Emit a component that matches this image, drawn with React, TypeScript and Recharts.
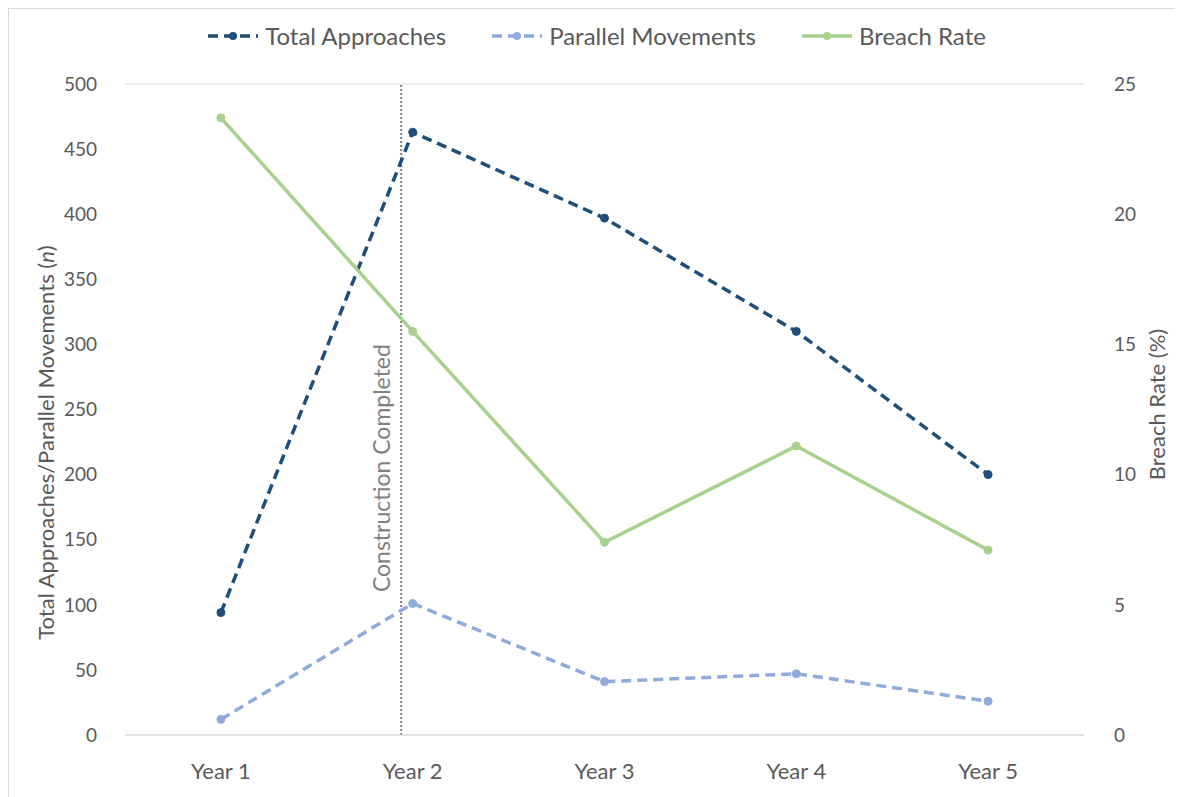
import React from 'react';
import {
  LineChart,
  Line,
  XAxis,
  YAxis,
  CartesianGrid,
  Legend,
  ReferenceLine,
} from 'recharts';

const years = [1, 2, 3, 4, 5];
const totalApproaches = [94, 463, 397, 310, 200];
const parallelMovements = [12, 101, 41, 47, 26];
const breachRate = [23.7, 15.5, 7.4, 11.1, 7.1];
const leftTicks = [0, 50, 100, 150, 200, 250, 300, 350, 400, 450, 500];
const rightTicks = [0, 5, 10, 15, 20, 25];
const constructionAt = 1.94;

const data = years.map((y, i) => ({
  year: y,
  total: totalApproaches[i],
  parallel: parallelMovements[i],
  breach: breachRate[i],
}));

const FONT = 'Lato, "Open Sans", sans-serif';
const TEXT = '#595959';

const legendItems = [
  { name: 'Total Approaches', color: '#1f4e79', dash: true },
  { name: 'Parallel Movements', color: '#8faadc', dash: true },
  { name: 'Breach Rate', color: '#a9d18e', dash: false },
];

function LegendContent() {
  return (
    <div style={{ display: 'flex', justifyContent: 'center', gap: 44, fontFamily: FONT, fontSize: 24, color: TEXT }}>
      {legendItems.map((it) => (
        <div key={it.name} style={{ display: 'flex', alignItems: 'center' }}>
          <svg width={54} height={12} style={{ marginRight: 5 }}>
            <line
              x1={2}
              x2={52}
              y1={6}
              y2={6}
              stroke={it.color}
              strokeWidth={3.5}
              strokeDasharray={it.dash ? '10 6' : undefined}
            />
            <circle cx={27} cy={6} r={4} fill={it.color} />
          </svg>
          <span>{it.name}</span>
        </div>
      ))}
    </div>
  );
}

function LeftTitle(props: any) {
  const { viewBox } = props;
  const x = viewBox.x + 36;
  const y = viewBox.y + viewBox.height / 2 + 33;
  return (
    <text
      x={x}
      y={y}
      transform={`rotate(-90 ${x} ${y})`}
      textAnchor="middle"
      dominantBaseline="central"
      fill={TEXT}
      fontFamily={FONT}
      fontSize={22}
    >
      Total Approaches/Parallel Movements (<tspan fontStyle="italic">n</tspan>)
    </text>
  );
}

function ConstructionLabel(props: any) {
  const { viewBox } = props;
  const x = viewBox.x - 20;
  const y = viewBox.y + viewBox.height * 0.59;
  return (
    <text
      x={x}
      y={y}
      transform={`rotate(-90 ${x} ${y})`}
      textAnchor="middle"
      dominantBaseline="central"
      fill="#7f7f7f"
      fontFamily={FONT}
      fontSize={23}
    >
      Construction Completed
    </text>
  );
}

export default function App() {
  return (
    <div style={{ width: 1174, height: 800, border: '1px solid #d9d9d9', background: '#fff' }}>
      <LineChart width={1174} height={790} data={data} margin={{ top: 46, right: 0, left: 0, bottom: 0 }}>
        <CartesianGrid vertical={false} stroke="#d9d9d9" strokeWidth={1} />
        <Legend verticalAlign="top" content={<LegendContent />} wrapperStyle={{ top: 12 }} />
        <XAxis
          dataKey="year"
          type="number"
          domain={[0.5, 5.5]}
          ticks={years}
          tickFormatter={(v) => `Year ${v}`}
          axisLine={{ stroke: '#d9d9d9' }}
          tickLine={false}
          tick={{ fill: TEXT, fontSize: 22, fontFamily: FONT }}
          tickMargin={22}
          height={64}
        />
        <YAxis
          yAxisId="left"
          domain={[0, 500]}
          ticks={leftTicks}
          axisLine={false}
          tickLine={false}
          tick={{ fill: TEXT, fontSize: 19, fontFamily: FONT }}
          tickMargin={22}
          width={116}
          label={<LeftTitle />}
        />
        <YAxis
          yAxisId="right"
          orientation="right"
          domain={[0, 25]}
          ticks={rightTicks}
          axisLine={false}
          tickLine={false}
          tick={{ fill: TEXT, fontSize: 19, fontFamily: FONT }}
          tickMargin={24}
          width={99}
          label={{
            value: 'Breach Rate (%)',
            angle: -90,
            position: 'insideRight',
            offset: 26,
            dy: -5,
            style: { textAnchor: 'middle', fill: TEXT, fontSize: 22, fontFamily: FONT },
          }}
        />
        <ReferenceLine
          yAxisId="left"
          x={constructionAt}
          stroke="#7f7f7f"
          strokeWidth={2}
          strokeDasharray="2 2"
          label={<ConstructionLabel />}
        />
        <Line
          yAxisId="left"
          dataKey="total"
          name="Total Approaches"
          stroke="#1f4e79"
          strokeWidth={3.5}
          strokeDasharray="10 6"
          dot={{ r: 4, fill: '#1f4e79', stroke: '#1f4e79', strokeWidth: 1, strokeDasharray: '' }}
          isAnimationActive={false}
        />
        <Line
          yAxisId="left"
          dataKey="parallel"
          name="Parallel Movements"
          stroke="#8faadc"
          strokeWidth={3.5}
          strokeDasharray="10 6"
          dot={{ r: 4, fill: '#8faadc', stroke: '#8faadc', strokeWidth: 1, strokeDasharray: '' }}
          isAnimationActive={false}
        />
        <Line
          yAxisId="right"
          dataKey="breach"
          name="Breach Rate"
          stroke="#a9d18e"
          strokeWidth={3.5}
          dot={{ r: 4, fill: '#a9d18e', stroke: '#a9d18e', strokeWidth: 1 }}
          isAnimationActive={false}
        />
      </LineChart>
    </div>
  );
}
